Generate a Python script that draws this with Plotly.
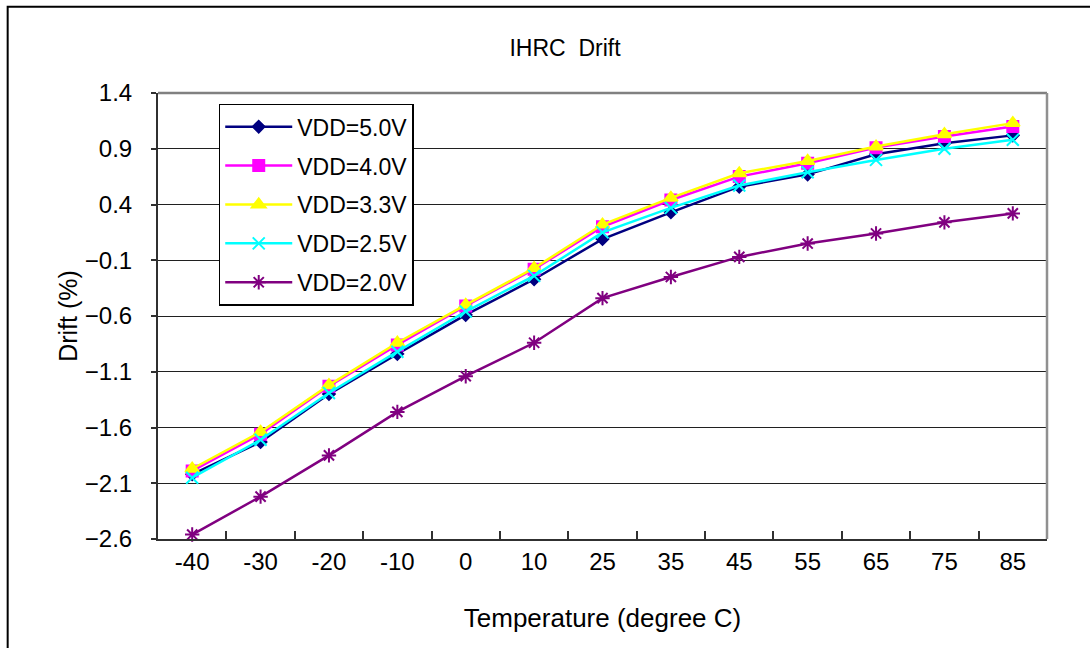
import plotly.graph_objects as go

temps = ["-40", "-30", "-20", "-10", "0", "10", "25", "35", "45", "55", "65", "75", "85"]
vdd_50 = [-2.02, -1.73, -1.30, -0.94, -0.59, -0.27, 0.09, 0.33, 0.56, 0.67, 0.85, 0.95, 1.02]
vdd_40 = [-1.99, -1.66, -1.23, -0.86, -0.51, -0.18, 0.20, 0.44, 0.65, 0.77, 0.91, 1.01, 1.10]
vdd_33 = [-1.97, -1.64, -1.22, -0.84, -0.50, -0.17, 0.22, 0.46, 0.68, 0.79, 0.92, 1.03, 1.13]
vdd_25 = [-2.05, -1.71, -1.29, -0.92, -0.56, -0.24, 0.15, 0.37, 0.57, 0.69, 0.80, 0.90, 0.98]
vdd_20 = [-2.56, -2.22, -1.85, -1.46, -1.14, -0.84, -0.44, -0.25, -0.07, 0.05, 0.14, 0.24, 0.32]

series_names = ["VDD=5.0V", "VDD=4.0V", "VDD=3.3V", "VDD=2.5V", "VDD=2.0V"]
series_vals = [vdd_50, vdd_40, vdd_33, vdd_25, vdd_20]
colors = ["#000080", "#FF00FF", "#FFFF00", "#00FFFF", "#800080"]
symbols = ["diamond", "square", "triangle-up", "x-thin", "asterisk"]
sizes = [9, 11, 12, 12, 12]

ytick_vals = [1.4, 0.9, 0.4, -0.1, -0.6, -1.1, -1.6, -2.1, -2.6]

FONT = "Liberation Sans, Arial, sans-serif"

fig = go.Figure()
for i, (name, vals) in enumerate(zip(series_names, series_vals)):
    fig.add_trace(go.Scatter(
        x=temps, y=vals, name=name, mode="lines+markers",
        legendgroup=name,
        line=dict(color=colors[i], width=2.5),
        marker=dict(symbol=symbols[i], size=sizes[i], color=colors[i],
                    line=dict(color=colors[i], width=2)),
        cliponaxis=False,
    ))

fig.update_layout(
    width=1090, height=648,
    margin=dict(l=157.5, r=42.5, t=93.3, b=108.7),
    paper_bgcolor="white", plot_bgcolor="white",
    font=dict(family=FONT, color="black", size=24),
    title=dict(text="IHRC  Drift", x=(565 - 157.5) / 890, xref="paper", xanchor="center",
               y=1 - 48 / 648, yref="container", yanchor="middle",
               font=dict(size=23, family=FONT, color="black")),
    showlegend=True,
    legend=dict(x=(218.3 - 157.5) / 890, y=(539.3 - 104) / 446, xanchor="left", yanchor="top",
                bgcolor="white", bordercolor="black", borderwidth=1.5,
                font=dict(size=23, family=FONT, color="black"),
                tracegroupgap=6, itemwidth=67),
)

fig.update_xaxes(
    type="category", range=[-0.5, 12.5],
    showline=True, linecolor="#303030", linewidth=2, mirror=False,
    ticks="inside", ticklen=8, tickcolor="#303030", tickwidth=1.5,
    tickson="boundaries", showgrid=False,
    tickfont=dict(size=24, family=FONT, color="black"),
    title=dict(text="Temperature (degree C)", standoff=35,
               font=dict(size=26, family=FONT, color="black")),
    zeroline=False,
)
fig.update_yaxes(
    range=[-2.6, 1.4], tickvals=ytick_vals, tickformat=".1f",
    showline=True, linecolor="#303030", linewidth=2,
    ticks="outside", ticklen=5, tickcolor="#303030", tickwidth=1.5,
    showgrid=True, gridcolor="#202020", gridwidth=1.3,
    tickfont=dict(size=24, family=FONT, color="black"),
    ticklabelstandoff=14,
    title=dict(text="Drift (%)", standoff=0,
               font=dict(size=25, family=FONT, color="black")),
    zeroline=False,
)

# plot-area top and right border (gray)
fig.add_shape(type="line", xref="paper", yref="paper", x0=0, x1=1, y0=1, y1=1,
              line=dict(color="#808080", width=2.5))
fig.add_shape(type="line", xref="paper", yref="paper", x0=1, x1=1, y0=0, y1=1,
              line=dict(color="#909090", width=2.5))
# outer chart border
fig.add_shape(type="rect", xref="paper", yref="paper",
              x0=(7 - 157.5) / 890, x1=(1100 - 157.5) / 890,
              y0=(539.3 - 660) / 446, y1=(539.3 - 7) / 446,
              line=dict(color="black", width=2), layer="below")

fig.write_html("out.html", config={"displayModeBar": False},
               post_script="document.body.style.margin='0';document.body.style.padding='0';")
